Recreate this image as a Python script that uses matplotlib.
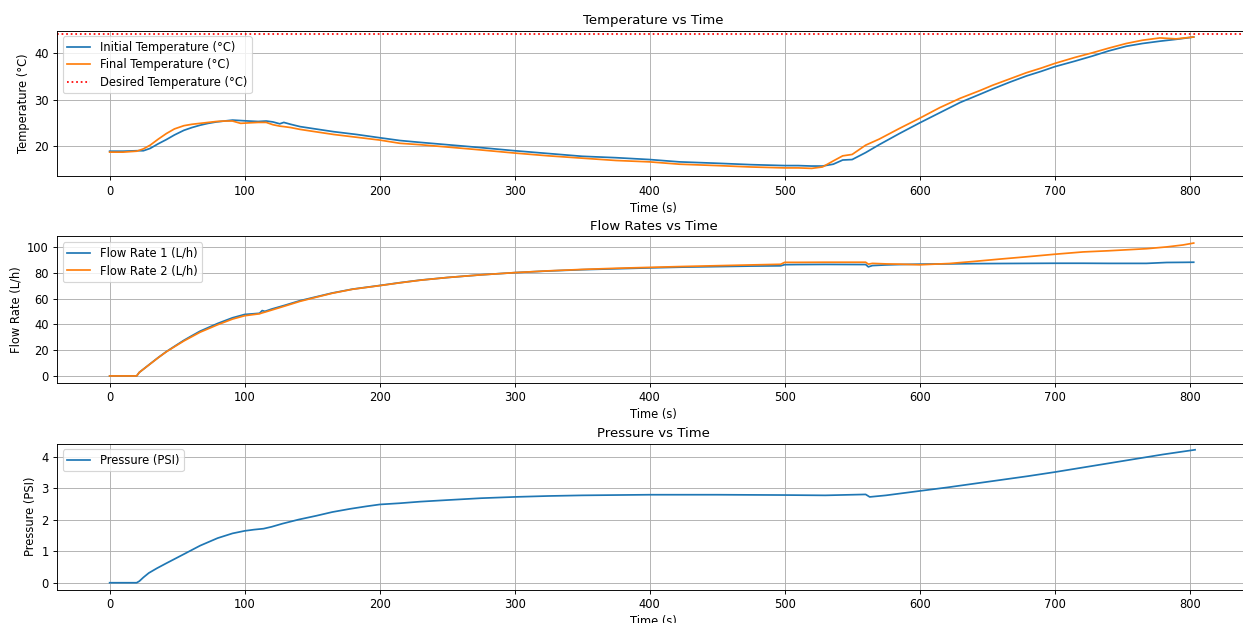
import matplotlib
matplotlib.use("Agg")
import matplotlib.pyplot as plt

# ---------------- data ----------------
temp_time = [0, 10, 20, 25, 30, 36, 42, 48, 55, 61, 67, 73, 79, 85, 91, 97, 103, 110, 116, 121,
             126, 129, 134, 141, 150, 166, 183, 200, 215, 230, 250, 270, 300, 325, 350, 375, 400,
             422, 450, 475, 500, 510, 520, 528, 536, 543, 550, 560, 570, 585, 600, 615, 630, 645,
             654, 667, 679, 690, 700, 715, 728, 740, 753, 765, 778, 790, 803]
temp_initial = [18.9, 18.9, 19.0, 19.0, 19.5, 20.5, 21.4, 22.4, 23.4, 24.0, 24.5, 24.9, 25.2, 25.4,
                25.6, 25.5, 25.4, 25.3, 25.4, 25.2, 24.8, 25.1, 24.7, 24.2, 23.8, 23.1, 22.5, 21.8,
                21.2, 20.8, 20.3, 19.8, 19.0, 18.4, 17.8, 17.5, 17.1, 16.6, 16.3, 16.0, 15.8, 15.8,
                15.7, 15.7, 16.1, 17.0, 17.1, 18.6, 20.3, 22.7, 25.0, 27.2, 29.4, 31.2, 32.3, 33.8,
                35.1, 36.1, 37.1, 38.3, 39.4, 40.5, 41.5, 42.1, 42.6, 43.0, 43.5]
temp_final = [18.7, 18.7, 18.9, 19.4, 20.2, 21.5, 22.7, 23.7, 24.4, 24.7, 24.9, 25.1, 25.3, 25.4,
              25.4, 24.9, 25.0, 25.1, 25.1, 24.6, 24.3, 24.2, 24.0, 23.6, 23.2, 22.5, 21.9, 21.3,
              20.6, 20.3, 19.8, 19.3, 18.5, 17.9, 17.4, 16.9, 16.6, 16.1, 15.8, 15.5, 15.3, 15.3,
              15.2, 15.5, 16.8, 17.9, 18.2, 20.2, 21.5, 23.8, 26.0, 28.3, 30.3, 32.0, 33.1, 34.5,
              35.8, 36.8, 37.8, 39.1, 40.1, 41.1, 42.1, 42.8, 43.3, 43.1, 43.5]
desired_temp = 44.2

flow_time = [0, 10, 20, 22, 30, 36, 42, 48, 55, 61, 67, 80, 91, 100, 105, 111, 113, 115, 120, 130,
             141, 153, 165, 180, 200, 215, 230, 250, 275, 300, 325, 350, 375, 400, 425, 450, 475,
             497, 500, 510, 530, 560, 562, 565, 575, 585, 600, 622, 640, 659, 680, 700, 721, 740,
             768, 783, 795, 803]
flow_rate_1 = [0, 0, 0, 2.8, 9.4, 14.3, 18.9, 23.0, 27.7, 31.3, 34.8, 40.8, 45.2, 47.8, 48.2, 48.7,
               50.8, 50.2, 52.0, 55.0, 58.5, 61.5, 64.5, 67.5, 70.3, 72.5, 74.5, 76.5, 78.6, 80.3,
               81.6, 82.6, 83.3, 84.0, 84.6, 85.0, 85.4, 85.6, 86.5, 86.6, 86.7, 86.6, 84.8, 85.8,
               86.3, 86.6, 86.9, 87.1, 87.3, 87.4, 87.5, 87.6, 87.6, 87.5, 87.5, 88.2, 88.3, 88.4]
flow_rate_2 = [0, 0, 0, 2.8, 9.3, 14.2, 18.8, 22.7, 27.2, 30.6, 34.0, 39.8, 44.2, 46.8, 47.5, 48.3,
               49.0, 49.6, 51.2, 54.4, 58.0, 61.2, 64.3, 67.4, 70.2, 72.4, 74.4, 76.5, 78.6, 80.3,
               81.7, 82.8, 83.7, 84.4, 85.1, 85.7, 86.3, 86.8, 88.3, 88.3, 88.4, 88.4, 86.9, 87.5,
               87.1, 86.9, 86.4, 87.4, 89.0, 90.8, 92.7, 94.6, 96.4, 97.3, 98.9, 100.3, 101.8, 103.3]

pressure_time = [0, 10, 20, 22, 25, 29, 35, 42, 55, 67, 80, 91, 100, 107, 114, 120, 128, 140, 153,
                 165, 178, 190, 200, 215, 230, 250, 275, 300, 325, 350, 375, 400, 450, 500, 530,
                 560, 563, 575, 600, 620, 640, 660, 680, 700, 720, 740, 760, 780, 804]
pressure = [0, 0, 0, 0.05, 0.17, 0.31, 0.46, 0.62, 0.91, 1.18, 1.42, 1.57, 1.65, 1.69, 1.72, 1.78,
            1.88, 2.01, 2.13, 2.25, 2.35, 2.43, 2.49, 2.53, 2.58, 2.63, 2.69, 2.73, 2.76, 2.78,
            2.79, 2.80, 2.80, 2.79, 2.78, 2.81, 2.73, 2.78, 2.92, 3.03, 3.15, 3.27, 3.39, 3.52,
            3.66, 3.80, 3.94, 4.08, 4.23]

# ---------------- figure ----------------
DPI = 83
W, H = 1243, 623
fig = plt.figure(figsize=(W / DPI, H / DPI), dpi=DPI)

def axes_px(left, top, right, bottom):
    return fig.add_axes([left / W, 1 - bottom / H, (right - left) / W, (bottom - top) / H])

ax1 = axes_px(57, 30.5, 1250, 176.5)
ax2 = axes_px(57, 236.5, 1250, 382.5)
ax3 = axes_px(57, 443.5, 1250, 589.5)

xlim = (-39, 844.7)
leg_kw = dict(loc="upper left", fontsize=10, labelspacing=0.38)

ax1.plot(temp_time, temp_initial, color="C0", label="Initial Temperature (°C)")
ax1.plot(temp_time, temp_final, color="C1", label="Final Temperature (°C)")
ax1.axhline(desired_temp, color="r", linestyle=":", label="Desired Temperature (°C)")
ax1.set_title("Temperature vs Time", fontsize=11.5)
ax1.set_xlabel("Time (s)")
ax1.set_ylabel("Temperature (°C)")
ax1.set_ylim(13.45, 44.9)
ax1.set_yticks([20, 30, 40])
ax1.legend(**leg_kw)

ax2.plot(flow_time, flow_rate_1, color="C0", label="Flow Rate 1 (L/h)")
ax2.plot(flow_time, flow_rate_2, color="C1", label="Flow Rate 2 (L/h)")
ax2.set_title("Flow Rates vs Time", fontsize=11.5)
ax2.set_xlabel("Time (s)")
ax2.set_ylabel("Flow Rate (L/h)")
ax2.set_ylim(-5.1, 108.4)
ax2.legend(**leg_kw)

ax3.plot(pressure_time, pressure, color="C0", label="Pressure (PSI)")
ax3.set_title("Pressure vs Time", fontsize=11.5)
ax3.set_xlabel("Time (s)")
ax3.set_ylabel("Pressure (PSI)")
ax3.set_ylim(-0.215, 4.43)
ax3.legend(**leg_kw)

for ax in (ax1, ax2, ax3):
    ax.set_xlim(*xlim)
    ax.set_xticks([0, 100, 200, 300, 400, 500, 600, 700, 800])
    ax.grid(True)

fig.savefig("out.png", dpi=DPI)
